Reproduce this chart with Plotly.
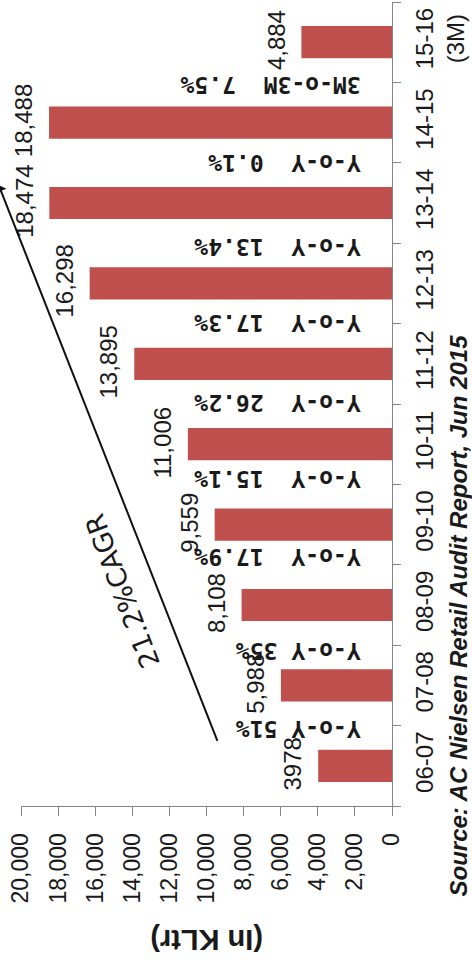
import plotly.graph_objects as go

# ---- data ----
categories = ["06-07", "07-08", "08-09", "09-10", "10-11", "11-12",
              "12-13", "13-14", "14-15", "15-16<br>(3M)"]
volumes = [3978, 5988, 8108, 9559, 11006, 13895, 16298, 18474, 18488, 4884]
volume_labels = ["3978", "5,988", "8,108", "9,559", "11,006", "13,895",
                 "16,298", "18,474", "18,488", "4,884"]
NB = "\u00a0"
growth_labels = ["Y-o-Y" + NB + "51%", "Y-o-Y" + NB + "35%",
                 "Y-o-Y" + NB * 2 + "17.9%", "Y-o-Y" + NB * 2 + "15.1%",
                 "Y-o-Y" + NB * 2 + "26.2%", "Y-o-Y" + NB * 2 + "17.3%",
                 "Y-o-Y" + NB * 2 + "13.4%", "Y-o-Y" + NB * 2 + "0.1%",
                 "3M-o-3M" + NB * 2 + "7.5%"]
value_ticks = [0, 2000, 4000, 6000, 8000, 10000, 12000, 14000, 16000, 18000, 20000]
value_tick_labels = ["0", "2,000", "4,000", "6,000", "8,000", "10,000",
                     "12,000", "14,000", "16,000", "18,000", "20,000"]
cagr_label = "21.2%CAGR"
unit_label = "(In KLtr)"
source_label = "Source: AC Nielsen Retail Audit Report, Jun 2015"

# ---- styling / positions ----
BAR_COLOR = "#C0504D"
AXIS_COLOR = "#868686"
TEXT_COLOR = "#1a1a1a"
SANS = "Liberation Sans, Arial, sans-serif"
NARROW = "Liberation Sans Narrow, Liberation Sans, Arial, sans-serif"
MONO = "DejaVu Sans Mono, monospace"
WIDE = "DejaVu Sans, sans-serif"
growth_pos = [0.45, 1.43, 2.6, 3.57, 4.51, 5.5, 6.45, 7.5, 8.47]

fig = go.Figure()
fig.add_trace(go.Bar(
    x=volumes, y=categories, orientation="h",
    marker=dict(color=BAR_COLOR, line=dict(width=0)),
    hoverinfo="skip",
))

annotations = []
# data labels
for i, (v, lab) in enumerate(zip(volumes, volume_labels)):
    annotations.append(dict(
        x=v, y=i, xref="x", yref="y", text=lab, showarrow=False,
        textangle=-90, xanchor="right", yanchor="middle", xshift=-10, yshift=2,
        font=dict(family=SANS, size=24, color=TEXT_COLOR),
    ))
# growth labels (upside down)
for pos, lab in zip(growth_pos, growth_labels):
    annotations.append(dict(
        x=1600, y=pos, xref="x", yref="y", text=lab, showarrow=False,
        textangle=180, xanchor="right", yanchor="middle",
        font=dict(family=MONO, size=23, color=TEXT_COLOR, weight="bold"),
    ))
# CAGR arrow
annotations.append(dict(
    x=21200, y=7.22, xref="x", yref="y", ax=9380, ay=0.29, axref="x", ayref="y",
    text="", showarrow=True, arrowhead=1, arrowsize=1, arrowwidth=2,
    arrowcolor="#111111",
))
annotations.append(dict(
    x=14550, y=2.17, xref="x", yref="y", text=cagr_label, showarrow=False,
    textangle=-111, xanchor="center", yanchor="middle",
    font=dict(family=WIDE, size=27, color=TEXT_COLOR),
))
# unit label
annotations.append(dict(
    x=0.5, y=-0.1667, xref="paper", yref="paper", text=unit_label, showarrow=False,
    textangle=180, xanchor="center", yanchor="middle",
    font=dict(family=SANS, size=29, color=TEXT_COLOR, weight="bold"),
))
# source
annotations.append(dict(
    x=1.221, y=0.5895, xref="paper", yref="paper", text=source_label, showarrow=False,
    textangle=-90, xanchor="right", yanchor="top",
    font=dict(family=SANS, size=24, color=TEXT_COLOR, weight="bold", style="italic"),
))

fig.update_layout(
    width=472, height=964,
    margin=dict(l=21, r=80, t=2, b=158, pad=0),
    paper_bgcolor="white", plot_bgcolor="white",
    showlegend=False, bargap=0.6,
    annotations=annotations,
    xaxis=dict(
        range=[20000, 0], tickmode="array", tickvals=value_ticks,
        ticktext=value_tick_labels, tickangle=-90, ticks="outside", ticklen=9,
        tickcolor=AXIS_COLOR, showline=True, linecolor=AXIS_COLOR, linewidth=1,
        showgrid=False, zeroline=False, automargin=False, ticklabelstandoff=8,
        tickfont=dict(family=SANS, size=23, color=TEXT_COLOR),
    ),
    yaxis=dict(
        type="category", side="right", range=[-0.5, 9.5],
        tickson="boundaries", ticks="outside", ticklen=8, tickcolor=AXIS_COLOR,
        showline=True, linecolor=AXIS_COLOR, linewidth=1, showgrid=False,
        tickangle=-90, zeroline=False, automargin=False, ticklabelstandoff=11,
        tickfont=dict(family=NARROW, size=24, color=TEXT_COLOR),
    ),
)

fig.write_html("out.html",
               config={"displayModeBar": False},
               post_script="document.body.style.margin='0';document.body.style.overflow='hidden';")
